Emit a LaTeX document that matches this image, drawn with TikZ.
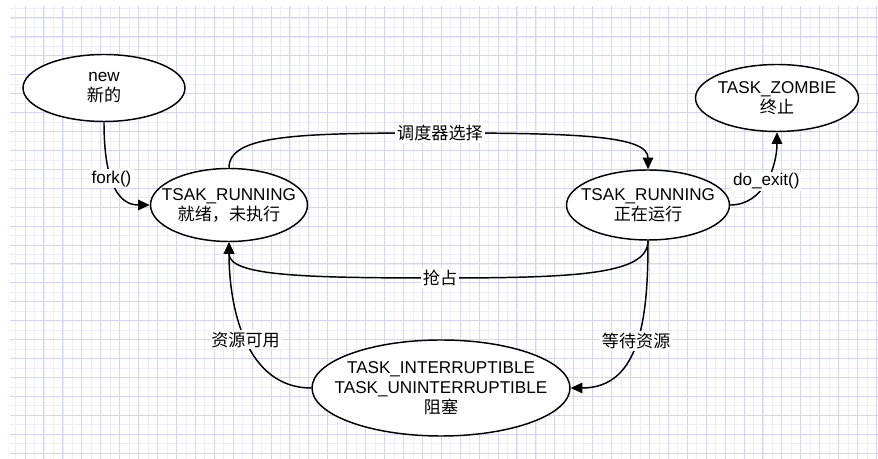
\documentclass[tikz,border=0pt]{standalone}
\usepackage{fontspec}
\setmainfont{Liberation Sans}
\newfontfamily\cjk{Noto Sans CJK SC}
\definecolor{GridMajor}{RGB}{212,212,246}
\definecolor{GridMinor}{RGB}{236,236,252}
\usetikzlibrary{shapes.geometric,arrows.meta}

\begin{document}
\begin{tikzpicture}[every node/.style={font=\fontsize{14.6}{17}\selectfont},
    state/.style={draw,ellipse,fill=white,line width=1.25pt,inner sep=-14pt,
                  align=center},
    arr/.style={-{Triangle[length=10pt,width=9pt]},line width=1.25pt},
    lbl/.style={fill=white,inner sep=1.5pt}]
  \useasboundingbox (0,0) rectangle (26.34,13.77);
  % grid paper
  \begin{scope}
    \clip (0.3,0) rectangle (26.34,13.56);
    \begin{scope}[shift={(0.18,0.18)}]
      \draw[GridMinor,line width=0.4pt,step=0.2838] (-1,-1) grid (27,14);
      \draw[GridMajor,line width=0.6pt,step=0.5676] (-1,-1) grid (27,14);
    \end{scope}
  \end{scope}

  \node[state,minimum width=4.86cm,minimum height=2.01cm] (new) at (3.12,11.13)
    {new\\{\cjk 新的}};
  \node[state,minimum width=4.71cm,minimum height=2.19cm] (ready) at (6.87,7.62)
    {TSAK\_RUNNING\\{\cjk 就绪，未执行}};
  \node[state,minimum width=4.89cm,minimum height=2.1cm] (run) at (19.44,7.62)
    {TSAK\_RUNNING\\{\cjk 正在运行}};
  \node[state,minimum width=4.89cm,minimum height=2.01cm] (zombie) at (23.31,10.83)
    {TASK\_ZOMBIE\\{\cjk 终止}};
  \node[state,minimum width=7.74cm,minimum height=2.88cm] (block) at (13.23,2.13)
    {TASK\_INTERRUPTIBLE\\TASK\_UNINTERRUPTIBLE\\{\cjk 阻塞}};

  \coordinate (schedTop) at (13.2,9.78);
  \coordinate (preemptLow) at (13.2,5.43);

  \draw[arr] (new.south) .. controls +(0,-1.9) and +(-0.9,0) .. (ready.west)
    node[lbl,pos=0.4] {fork()};
  \draw[arr] (ready.north) .. controls +(0,1.0) and +(-4.2,0) .. (schedTop)
    node[lbl] {\cjk 调度器选择} .. controls +(4.2,0) and +(0,1.0) .. (run.north);
  \draw[arr] (run.south) .. controls +(0,-1.0) and +(4.2,0) .. (preemptLow)
    node[lbl] {\cjk 抢占} .. controls +(-4.2,0) and +(0,-1.0) .. (ready.south);
  \draw[arr] (run.south) to[out=-90,in=0,looseness=1.1]
    node[lbl] {\cjk 等待资源} (block.east);
  \draw[arr] (block.west) to[out=180,in=-90]
    node[lbl] {\cjk 资源可用} (ready.south);
  \draw[arr] (run.east) to[out=0,in=-90]
    node[lbl] {do\_exit()} (zombie.south);
\end{tikzpicture}
\end{document}
